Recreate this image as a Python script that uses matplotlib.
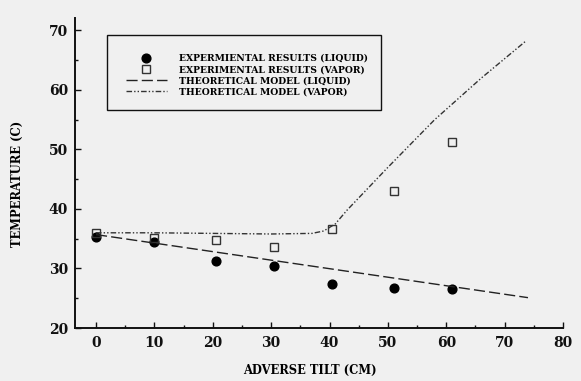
import matplotlib
matplotlib.use("Agg")
import matplotlib.pyplot as plt
from matplotlib.ticker import MultipleLocator
from matplotlib.patches import Rectangle

# Data
tilt_exp = [0, 10, 20.5, 30.5, 40.5, 51, 61]
liquid_exp = [35.3, 34.5, 31.3, 30.4, 27.4, 26.7, 26.6]
vapor_exp = [36.0, 35.1, 34.8, 33.6, 36.6, 43.0, 51.3]

tilt_model_liq = [0, 74]
liquid_model = [35.7, 25.1]

tilt_model_vap = [0, 10, 20, 30, 37, 39, 41, 43, 50, 58, 66, 73.6]
vapor_model = [36.0, 36.0, 35.9, 35.8, 35.9, 36.3, 37.5, 39.8, 47.0, 55.0, 62.0, 68.2]

labels = ["EXPERMIENTAL RESULTS (LIQUID)",
          "EXPERIMENTAL RESULTS (VAPOR)",
          "THEORETICAL MODEL (LIQUID)",
          "THEORETICAL MODEL (VAPOR)"]

bg = "#f0f0f0"
font = "DejaVu Serif"

fig = plt.figure(figsize=(5.81, 3.81), dpi=100, facecolor=bg)
ax = fig.add_axes([75/581, 1 - 328/381, (563 - 75)/581, (328 - 18)/381])
ax.set_facecolor(bg)

h1, = ax.plot(tilt_exp, liquid_exp, 'o', color='black', markersize=6.3, linestyle='none')
h2, = ax.plot(tilt_exp, vapor_exp, 's', markerfacecolor='none', markeredgecolor='#333333',
              markersize=6, markeredgewidth=1.0, linestyle='none')
h3, = ax.plot(tilt_model_liq, liquid_model, color='#222222', lw=1.0, dashes=(8, 3))
h4, = ax.plot(tilt_model_vap, vapor_model, color='#333333', lw=1.0, dashes=(4, 1.5, 1, 1.5, 1, 1.5))

ax.set_xlim(-3.6, 80)
ax.set_ylim(20, 72.1)
ax.xaxis.set_major_locator(MultipleLocator(10))
ax.xaxis.set_minor_locator(MultipleLocator(5))
ax.yaxis.set_major_locator(MultipleLocator(10))
ax.yaxis.set_minor_locator(MultipleLocator(5))

for s in ['top', 'right']:
    ax.spines[s].set_visible(False)
for s in ['left', 'bottom']:
    ax.spines[s].set_linewidth(1.4)
    ax.spines[s].set_color('#111111')

ax.tick_params(which='major', direction='in', length=4, width=1, colors='#111111', pad=5)
ax.tick_params(which='minor', direction='in', length=2.5, width=1, colors='#111111')
for lab in ax.get_xticklabels() + ax.get_yticklabels():
    lab.set_fontfamily(font)
    lab.set_fontweight('bold')
    lab.set_fontsize(10)
ax.tick_params(axis='x', pad=6)

fig.text(17/581, 1 - 184/381, "TEMPERATURE (C)", rotation=90, ha='center', va='center',
         fontfamily=font, fontweight='bold', fontsize=8.3)
fig.text(310/581, 1 - 370/381, "ADVERSE TILT (CM)", ha='center', va='center',
         fontfamily=font, fontweight='bold', fontsize=8.3)

# legend frame
fig.patches.append(Rectangle((107/581, 1 - 110/381), (381 - 107)/581, (110 - 35)/381,
                             transform=fig.transFigure, facecolor=bg, edgecolor='#111111',
                             linewidth=1.0, zorder=3))

leg = fig.legend([h1, h2, h3, h4], labels, loc='upper left',
                 bbox_to_anchor=(126/581, 1 - 54/381), borderaxespad=0,
                 frameon=False, borderpad=0, labelspacing=0.22, handlelength=4.4,
                 handletextpad=1.3, prop={'family': font, 'weight': 'bold', 'size': 6.7})
leg.set_zorder(4)

fig.savefig("out.png", dpi=100, facecolor=bg)
